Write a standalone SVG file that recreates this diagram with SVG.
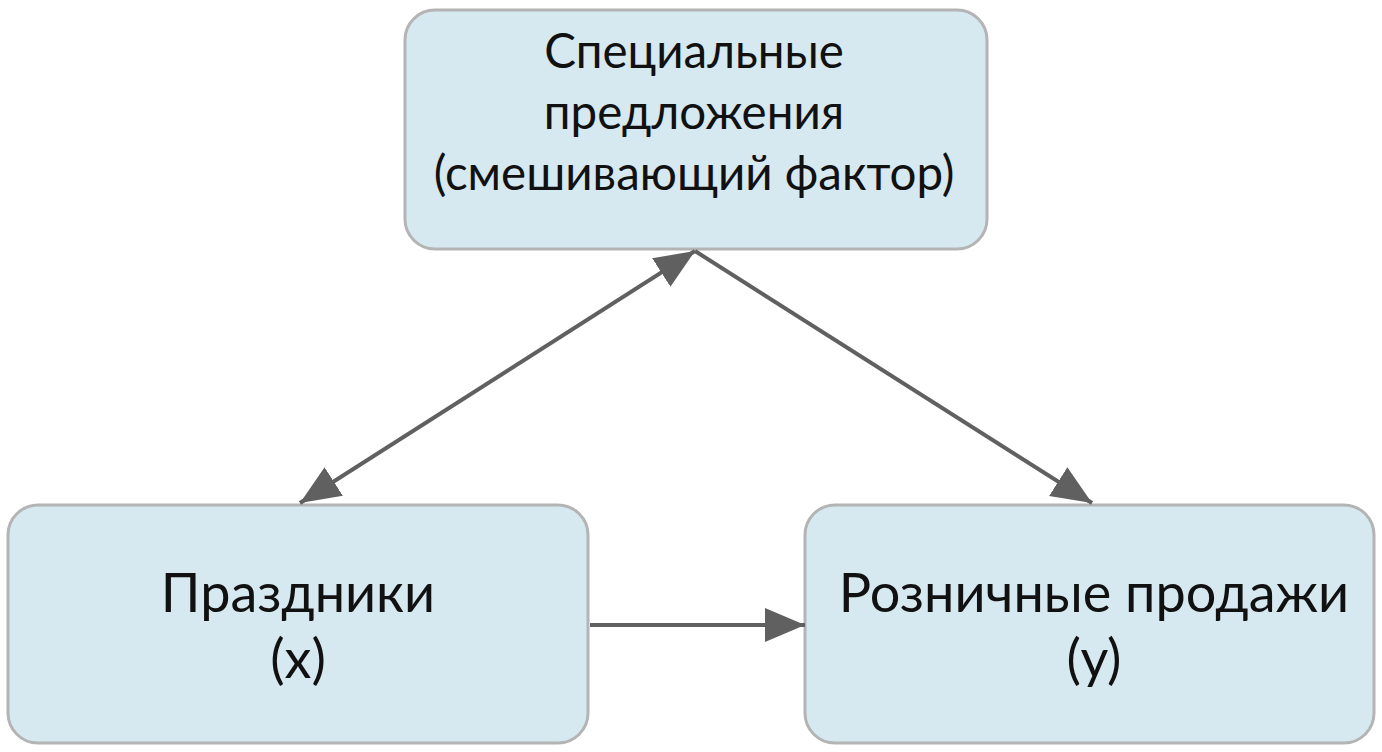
<svg xmlns="http://www.w3.org/2000/svg" width="1382" height="752" viewBox="0 0 1382 752">
<style>
.box{fill:#d6e8f0;stroke:#b4b4b4;stroke-width:3}
.t{font-family:Lato,"Liberation Sans",sans-serif;font-size:47.5px;fill:#111;text-anchor:middle}
.b{font-size:54px}
.c{stroke:#606060;stroke-width:4;fill:none}
</style>
<defs>
<marker id="b" viewBox="0 0 40 34" refX="40" refY="17" markerWidth="40" markerHeight="34" markerUnits="userSpaceOnUse" orient="auto-start-reverse">
<path d="M0,0L40,17L0,34z" fill="#606060"/>
</marker>
</defs>
<g id="n1"><rect class="box" x="405" y="10" width="582" height="239" rx="30"/>
<text class="t" x="694" y="68">Специальные</text>
<text class="t" x="694" y="129">предложения</text>
<text class="t" x="694" y="190">(смешивающий фактор)</text></g>
<g id="n2"><rect class="box" x="8" y="505" width="580" height="238" rx="30"/>
<text class="t b" x="298" y="612">Праздники</text>
<text class="t b" x="298" y="678">(x)</text></g>
<g id="n3"><rect class="box" x="805" y="505" width="569" height="238" rx="30"/>
<text class="t b" x="1094" y="612">Розничные продажи</text>
<text class="t b" x="1094" y="678">(y)</text></g>
<g id="connectors">
<line class="c" x1="300" y1="503" x2="695" y2="251" marker-start="url(#b)" marker-end="url(#b)"/>
<line class="c" x1="695" y1="251" x2="1092" y2="503" marker-end="url(#b)"/>
<line class="c" x1="590" y1="625" x2="805" y2="625" marker-end="url(#b)"/>
</g>
</svg>
